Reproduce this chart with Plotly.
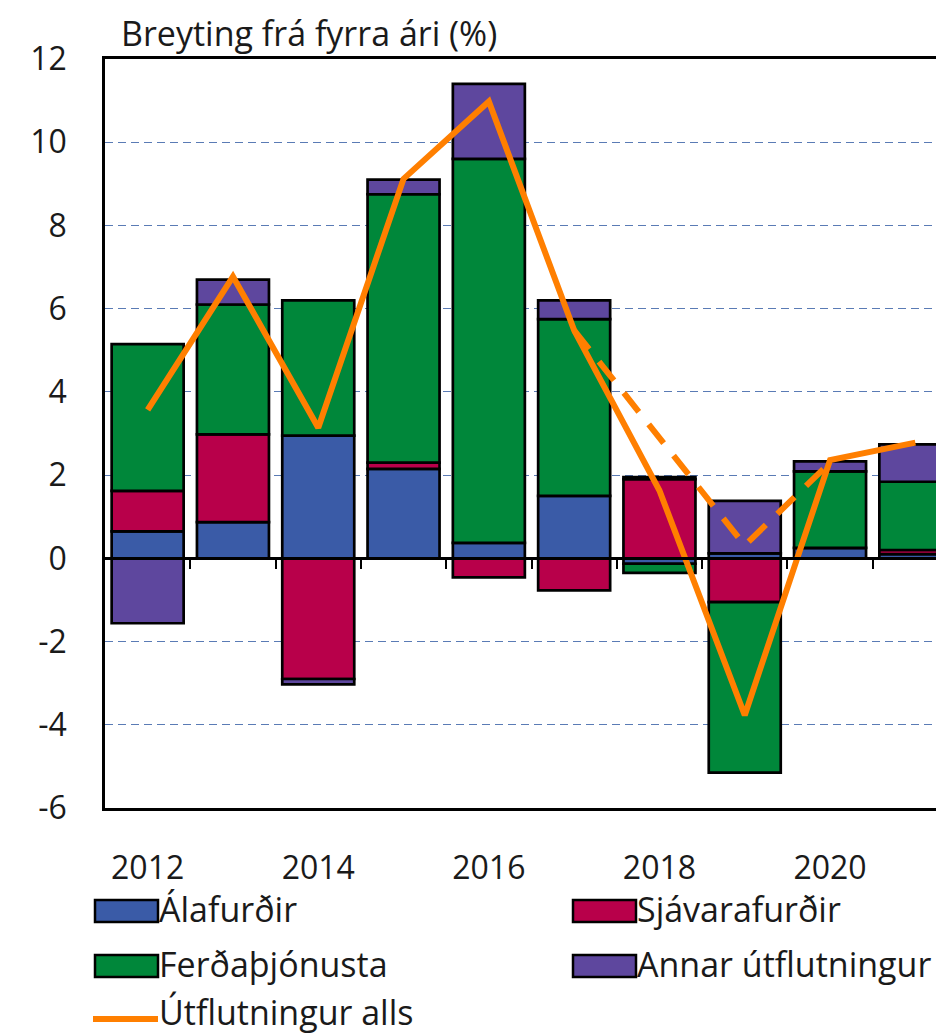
import plotly.graph_objects as go

# ---------------- data ----------------
years = [2012, 2013, 2014, 2015, 2016, 2017, 2018, 2019, 2020, 2021]
alafurdir = [0.65, 0.87, 2.95, 2.15, 0.37, 1.50, -0.13, 0.12, 0.25, 0.10]
sjavarafurdir = [0.97, 2.11, -2.90, 0.15, -0.46, -0.77, 1.90, -1.05, 0.00, 0.10]
ferdathjonusta = [3.53, 3.12, 3.25, 6.45, 9.23, 4.25, -0.22, -4.10, 1.84, 1.64]
annar = [-1.56, 0.60, -0.13, 0.35, 1.80, 0.45, 0.05, 1.26, 0.24, 0.90]
utflutningur_alls = [3.57, 6.77, 3.14, 9.12, 10.98, 5.48, 1.63, -3.77, 2.36, 2.78]
utflutningur_spa = [None, None, None, None, None, 5.48, 2.90, 0.31, 2.30, None]

tick_years = [2012, 2014, 2016, 2018, 2020]
y_ticks = [-6, -4, -2, 0, 2, 4, 6, 8, 10, 12]
y_ticktext = ["-6", "-4", "-2", "0", "2", "4", "6", "8", "10", "12"]

bar_names = ["Álafurðir", "Sjávarafurðir", "Ferðaþjónusta", "Annar útflutningur"]
line_name = "Útflutningur alls"
title_text = "Breyting frá fyrra ári (%)"

# ---------------- style ----------------
colors = ["#3A5BA7", "#B8004A", "#00873A", "#5E479E"]
orange = "#FF7F00"
FONT = "Open Sans"
FS = 32      # tick labels
FS_TXT = 34  # title and legend
TXT = "#1a1a1a"

OFF = 8  # default page body margin
W, H = 944 - OFF, 1036 - OFF
ML, MR, MT, MB = 105 - OFF, 0, 59 - OFF, 228
PW = W - ML - MR
PH = H - MT - MB
step_px = 85.3
x_range = [2011.5, 2011.5 + PW / step_px]


def px_x(p):
    return (p - OFF - ML) / PW


def px_y(p):
    return (OFF + H - MB - p) / PH


fig = go.Figure()

for name, vals, col in zip(bar_names, [alafurdir, sjavarafurdir, ferdathjonusta, annar], colors):
    fig.add_trace(go.Bar(
        x=years, y=vals, name=name,
        marker=dict(color=col, line=dict(color="black", width=2.7)),
        showlegend=False,
    ))

fig.add_trace(go.Scatter(
    x=years, y=utflutningur_spa, mode="lines", name=line_name + " (spá)",
    line=dict(color=orange, width=6, dash="24px,16px"),
    xaxis="x2", yaxis="y", showlegend=False, connectgaps=False,
))
fig.add_trace(go.Scatter(
    x=years, y=utflutningur_alls, mode="lines", name=line_name,
    line=dict(color=orange, width=6),
    xaxis="x2", yaxis="y", showlegend=False,
))

fig.update_layout(
    width=W, height=H,
    margin=dict(l=ML, r=MR, t=MT, b=MB, pad=0),
    paper_bgcolor="white", plot_bgcolor="white",
    barmode="relative", bargap=0.156,
    font=dict(family=FONT, size=FS, color=TXT),
    xaxis=dict(
        range=x_range, tickmode="array", tickvals=tick_years,
        ticktext=[str(t) for t in tick_years],
        showgrid=False, zeroline=False, ticks="",
        showline=True, linecolor="black", linewidth=2.5, mirror=True,
        ticklabelstandoff=30,
        tickfont=dict(family=FONT, size=FS, color=TXT),
    ),
    xaxis2=dict(
        range=x_range, overlaying="x", anchor="free", position=6 / 18,
        tickmode="array", tickvals=[y + 0.5 for y in years],
        ticks="outside", ticklen=9, tickwidth=2, tickcolor="black",
        showticklabels=False, showgrid=False, zeroline=False,
        showline=True, linecolor="black", linewidth=2.5,
    ),
    yaxis=dict(
        range=[-6, 12], tickmode="array", tickvals=y_ticks, ticktext=y_ticktext,
        showgrid=True, gridcolor="#5A7BB5", gridwidth=1.3, griddash="8px,5px",
        zeroline=False, ticks="",
        showline=True, linecolor="black", linewidth=2.5,
        ticklabelstandoff=29,
        tickfont=dict(family=FONT, size=FS, color=TXT),
    ),
)

annotations = [dict(
    xref="paper", yref="paper", x=px_x(119), y=px_y(33),
    text=title_text, showarrow=False, xanchor="left", yanchor="middle",
    font=dict(family=FONT, size=FS_TXT, color=TXT),
)]
shapes = []

# legend (custom, to reproduce the wide swatches)
legend_items = [
    (bar_names[0], colors[0], 95, 911, "box"),
    (bar_names[1], colors[1], 573, 911, "box"),
    (bar_names[2], colors[2], 95, 966, "box"),
    (bar_names[3], colors[3], 573, 966, "box"),
    (line_name, orange, 95, 1016, "line"),
]
for text, col, x0, yc, kind in legend_items:
    if kind == "box":
        shapes.append(dict(
            type="rect", xref="paper", yref="paper",
            x0=px_x(x0), x1=px_x(x0 + 63), y0=px_y(yc + 11), y1=px_y(yc - 11),
            fillcolor=col, line=dict(color="black", width=2.5),
        ))
        ty = yc - 2
    else:
        shapes.append(dict(
            type="line", xref="paper", yref="paper",
            x0=px_x(x0 - 2), x1=px_x(x0 + 63), y0=px_y(yc + 3), y1=px_y(yc + 3),
            line=dict(color=col, width=6),
        ))
        ty = 1012
    annotations.append(dict(
        xref="paper", yref="paper", x=px_x(x0 + 62), y=px_y(ty),
        text=text, showarrow=False, xanchor="left", yanchor="middle",
        font=dict(family=FONT, size=FS_TXT, color=TXT),
    ))

fig.update_layout(annotations=annotations, shapes=shapes)

fig.write_html("out.html")
